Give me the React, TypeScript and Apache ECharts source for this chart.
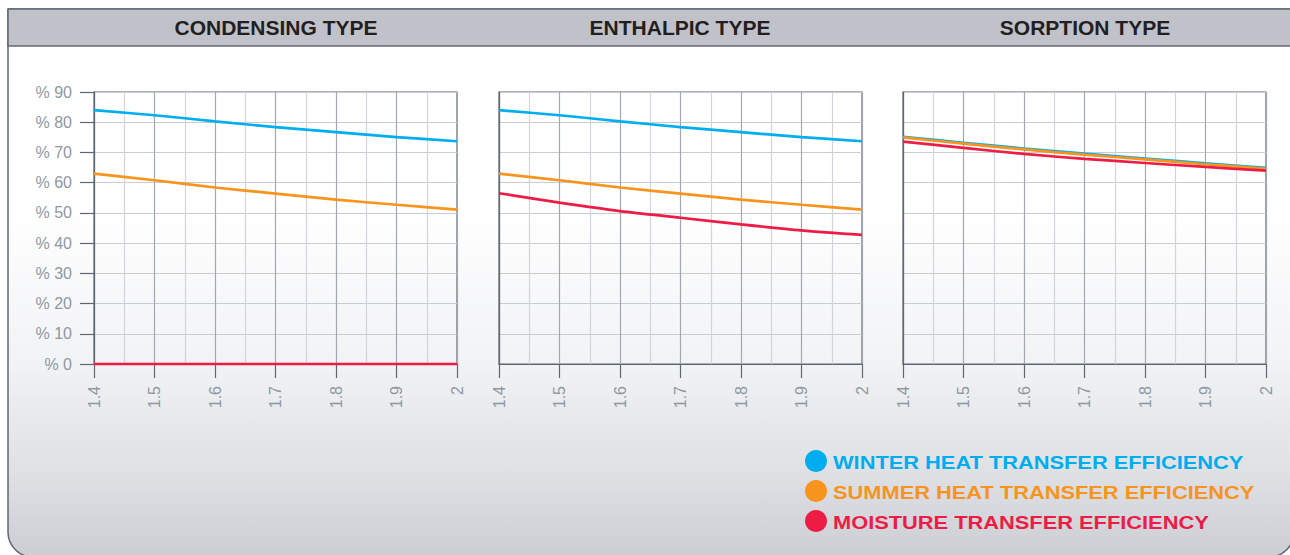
import React, { useEffect, useRef } from "react";
import * as echarts from "echarts";

const xValues = [1.4, 1.5, 1.6, 1.7, 1.8, 1.9, 2.0];
const panelTitles = ["CONDENSING TYPE", "ENTHALPIC TYPE", "SORPTION TYPE"];
const seriesNames = [
  "WINTER HEAT TRANSFER EFFICIENCY",
  "SUMMER HEAT TRANSFER EFFICIENCY",
  "MOISTURE TRANSFER EFFICIENCY",
];
const seriesColors = ["#00aeef", "#f7941d", "#ed1c45"];

const condensingWinter = [84.0, 82.3, 80.3, 78.4, 76.7, 75.1, 73.7];
const condensingSummer = [63.0, 60.8, 58.4, 56.4, 54.4, 52.7, 51.1];
const condensingMoisture = [0, 0, 0, 0, 0, 0, 0];

const enthalpicWinter = [84.0, 82.3, 80.3, 78.4, 76.7, 75.1, 73.7];
const enthalpicSummer = [63.0, 60.8, 58.4, 56.4, 54.4, 52.7, 51.1];
const enthalpicMoisture = [56.5, 53.4, 50.6, 48.4, 46.2, 44.2, 42.7];

const sorptionWinter = [75.2, 73.2, 71.3, 69.6, 68.0, 66.4, 64.9];
const sorptionSummer = [75.0, 72.9, 71.0, 69.3, 67.7, 66.1, 64.6];
const sorptionMoisture = [73.6, 71.5, 69.5, 67.9, 66.5, 65.2, 64.0];

const panels = [
  [condensingWinter, condensingSummer, condensingMoisture],
  [enthalpicWinter, enthalpicSummer, enthalpicMoisture],
  [sorptionWinter, sorptionSummer, sorptionMoisture],
];

const gridLefts = [94, 499, 903];
const GRID_W = 363;
const GRID_TOP = 92;
const GRID_H = 272;
const FONT = "'Liberation Sans', Arial, Helvetica, sans-serif";
const AXIS_DARK = "#5d6873";
const LABEL_GRAY = "#8e98a2";

export default function App() {
  const ref = useRef<HTMLDivElement>(null);

  useEffect(() => {
    if (!ref.current) return;
    const chart = echarts.init(ref.current, undefined, { renderer: "svg" });

    const grids = gridLefts.map((left) => ({
      left,
      top: GRID_TOP,
      width: GRID_W,
      height: GRID_H,
      show: true,
      borderColor: AXIS_DARK,
      borderWidth: 1.2,
      backgroundColor: "transparent",
    }));

    const xAxes = gridLefts.map((_, i) => ({
      type: "value",
      gridIndex: i,
      min: 1.4,
      max: 2.0,
      interval: 0.1,
      axisLine: { show: true, lineStyle: { color: AXIS_DARK, width: 1.2 } },
      axisTick: { show: true, length: 14, inside: false, lineStyle: { color: AXIS_DARK, width: 1.2 } },
      axisLabel: {
        rotate: 90,
        margin: 22,
        fontSize: 16,
        fontFamily: FONT,
        color: LABEL_GRAY,
        formatter: (v: number) => String(Math.round(v * 10) / 10),
      },
      splitLine: { show: true, lineStyle: { color: "#a3a8b0", width: 1.2 } },
      minorTick: { show: false, splitNumber: 2 },
      minorSplitLine: { show: true, lineStyle: { color: "#d3d4da", width: 1.2 } },
    }));

    const yAxes = gridLefts.map((_, i) => ({
      type: "value",
      gridIndex: i,
      min: 0,
      max: 90,
      interval: 10,
      axisLine: { show: true, lineStyle: { color: AXIS_DARK, width: 1.2 } },
      axisTick: { show: i === 0, length: 14, inside: false, lineStyle: { color: AXIS_DARK, width: 1.2 } },
      axisLabel: {
        show: i === 0,
        margin: 22,
        fontSize: 16,
        fontFamily: FONT,
        color: LABEL_GRAY,
        formatter: (v: number) => "% " + v,
      },
      splitLine: { show: true, lineStyle: { color: "#cbccd2", width: 1.2 } },
    }));

    const series: any[] = [];
    panels.forEach((panel, pi) => {
      panel.forEach((vals, si) => {
        series.push({
          type: "line",
          name: seriesNames[si],
          xAxisIndex: pi,
          yAxisIndex: pi,
          data: xValues.map((x, k) => [x, vals[k]]),
          smooth: 0.3,
          showSymbol: false,
          symbol: "circle",
          clip: false,
          z: 3 + si,
          itemStyle: { color: seriesColors[si] },
          lineStyle: { color: seriesColors[si], width: 2.7 },
        });
      });
    });

    const titleCenters = [276, 680, 1085];

    const legendItems: any[] = [];
    seriesNames.forEach((n, i) => {
      const cy = 461 + 30 * i;
      legendItems.push({
        type: "circle",
        z: 5,
        silent: true,
        shape: { cx: 816, cy, r: 11 },
        style: { fill: seriesColors[i] },
      });
      legendItems.push({
        type: "text",
        z: 5,
        silent: true,
        x: 833,
        y: cy + 2,
        scaleX: 1.18,
        style: {
          text: n,
          align: "left",
          verticalAlign: "middle",
          fill: seriesColors[i],
          font: `bold 18.5px ${FONT}`,
        },
      });
    });

    chart.setOption({
      animation: false,
      graphic: [
        {
          type: "rect",
          z: -10,
          silent: true,
          shape: { x: 8, y: 9, width: 1286, height: 548, r: [0, 0, 25, 25] },
          style: {
            fill: new echarts.graphic.LinearGradient(0, 0, 0, 1, [
              { offset: 0, color: "#ffffff" },
              { offset: 0.36, color: "#ffffff" },
              { offset: 0.64, color: "#f2f3f5" },
              { offset: 0.84, color: "#e0e1e5" },
              { offset: 1, color: "#cdced4" },
            ]),
            stroke: AXIS_DARK,
            lineWidth: 1.5,
          },
        },
        {
          type: "rect",
          z: -9,
          silent: true,
          shape: { x: 8, y: 9, width: 1286, height: 37 },
          style: { fill: "#c1c2c9", stroke: "#5f6a75", lineWidth: 1.5 },
        },
        ...panelTitles.map((t, i) => ({
          type: "text",
          z: 5,
          silent: true,
          x: titleCenters[i],
          y: 27,
          style: {
            text: t,
            align: "center",
            verticalAlign: "middle",
            fill: "#231f20",
            font: `bold 21px ${FONT}`,
          },
        })),
        ...legendItems,
      ],
      grid: grids,
      xAxis: xAxes,
      yAxis: yAxes,
      series,
    });

    return () => chart.dispose();
  }, []);

  return (
    <div
      ref={ref}
      style={{ position: "absolute", left: 0, top: 0, width: 1290, height: 555 }}
    />
  );
}
